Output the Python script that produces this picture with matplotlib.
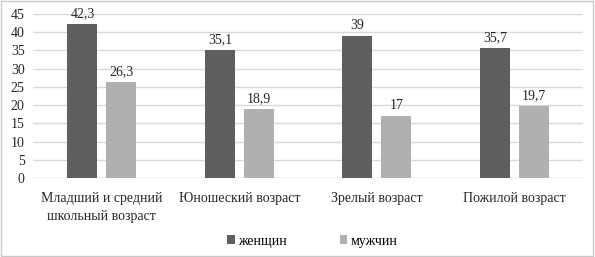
import numpy as np
import matplotlib.pyplot as plt
from matplotlib.patches import Rectangle

# data
categories = ['Младший и средний\nшкольный возраст', 'Юношеский возраст',
              'Зрелый возраст', 'Пожилой возраст']
women = [42.3, 35.1, 39, 35.7]
men = [26.3, 18.9, 17, 19.7]
series_names = ['женщин', 'мужчин']

plt.rcParams['font.family'] = ['Liberation Serif', 'DejaVu Serif']
plt.rcParams['font.size'] = 10

fig = plt.figure(figsize=(5.95, 2.57), dpi=100)
ax = fig.add_axes([0.0555, 0.307, 0.9245, 0.6385])

x = np.arange(len(categories))
w = 0.218
off = 0.141
b1 = ax.bar(x - off, women, w, color='#5f5f5f', label=series_names[0], zorder=3)
b2 = ax.bar(x + off, men, w, color='#b0b0b0', label=series_names[1], zorder=3)

def fmt(v):
    return ('%g' % v).replace('.', ',')

for bars, vals in ((b1, women), (b2, men)):
    for r, v in zip(bars, vals):
        ax.text(r.get_x() + r.get_width() / 2, v + 1.0, fmt(v),
                ha='center', va='bottom', color='#262626')

ax.set_xlim(-0.5, 3.5)
ax.set_ylim(0, 45)
ax.set_yticks(range(0, 46, 5))
ax.set_xticks(x)
ax.set_xticklabels(categories, color='#262626', linespacing=1.55)
ax.tick_params(axis='both', length=0, colors='#262626', pad=6)
ax.tick_params(axis='x', pad=10)
ax.yaxis.grid(True, color='#d9d9d9', linewidth=1, zorder=0)
for s in ax.spines.values():
    s.set_visible(False)
ax.axhline(0, color='#d9d9d9', linewidth=1, zorder=2)

fig.legend(loc='center', bbox_to_anchor=(0.525, 0.062), ncol=2, frameon=False,
           handlelength=0.55, handleheight=0.55, columnspacing=3.8,
           handletextpad=0.25)

fig.patches.append(Rectangle((0.002, 0.004), 0.994, 0.992, transform=fig.transFigure,
                             fill=False, edgecolor='#c8c8c8', linewidth=1))

fig.savefig('out.png', dpi=100)
